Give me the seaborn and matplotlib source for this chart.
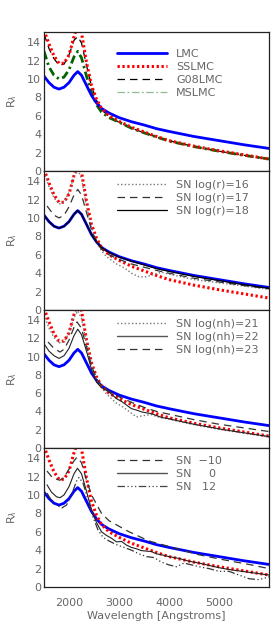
import numpy as np
import pandas as pd
import seaborn as sns
from matplotlib import pyplot as plt

# common wavelength grid for the smooth model curves
wl = [1500, 1600, 1700, 1800, 1900, 2000, 2100, 2175, 2250, 2350, 2450, 2550,
      2650, 2800, 3000, 3250, 3500, 3750, 4000, 4500, 5000, 5500, 6000]
lmc = [10.3, 9.6, 9.1, 8.9, 9.1, 9.6, 10.4, 10.8, 10.4, 9.3, 8.2, 7.4,
       6.8, 6.3, 5.8, 5.35, 5.0, 4.6, 4.3, 3.75, 3.3, 2.85, 2.45]
sslmc = [15.3, 13.8, 12.5, 11.7, 11.7, 12.6, 14.6, 15.8, 15.0, 11.8, 9.3, 7.8,
         6.8, 6.0, 5.4, 4.75, 4.25, 3.75, 3.3, 2.7, 2.2, 1.75, 1.3]
g08lmc = [14.9, 13.3, 12.2, 11.5, 11.6, 12.6, 14.2, 14.6, 13.9, 11.5, 9.2, 7.7,
          6.7, 5.9, 5.3, 4.65, 4.15, 3.7, 3.3, 2.65, 2.15, 1.7, 1.3]
mslmc = [13.0, 11.3, 10.4, 10.0, 10.2, 11.0, 12.4, 13.0, 12.3, 10.3, 8.5, 7.2,
         6.4, 5.8, 5.3, 4.65, 4.15, 3.7, 3.25, 2.65, 2.15, 1.7, 1.3]

# panel 2: SN log(r)
r18 = [10.3, 9.6, 9.1, 8.9, 9.1, 9.6, 10.4, 10.8, 10.4, 9.3, 8.2, 7.4,
       6.8, 6.25, 5.75, 5.3, 4.9, 4.5, 4.2, 3.65, 3.2, 2.75, 2.35]
wl_r17 = [1560, 1700, 1800, 1900, 2000, 2100, 2175, 2250, 2350, 2450, 2550,
          2650, 2800, 3000, 3250, 3500, 3750, 4000, 4500, 5000, 5500, 6000]
r17 = [11.3, 10.3, 10.0, 10.3, 11.2, 12.5, 13.1, 12.5, 10.6, 8.7, 7.4,
       6.6, 6.0, 5.5, 5.0, 4.65, 4.3, 4.0, 3.45, 3.05, 2.65, 2.3]
wl_r16 = [1500, 1600, 1700, 1800, 1900, 2000, 2100, 2175, 2250, 2350, 2450, 2550,
          2650, 2750, 2850, 2950, 3100, 3250, 3400, 3550, 3700, 3850, 4000,
          4500, 5000, 5500, 6000]
r16 = [15.0, 13.4, 12.2, 11.5, 11.7, 12.8, 14.5, 15.2, 14.3, 11.3, 9.0, 7.5,
       6.4, 5.8, 5.4, 5.0, 4.6, 4.0, 3.6, 3.6, 3.9, 4.1, 3.9,
       3.3, 2.95, 2.6, 2.25]

# panel 3: SN log(nh)
wl_nh = [1500, 1600, 1700, 1800, 1900, 2000, 2100, 2175, 2250, 2350, 2450, 2550,
         2650, 2750, 2850, 2950, 3050, 3150, 3250, 3350, 3450, 3550, 3650, 3750,
         3850, 4000, 4200, 4500, 4800, 5100, 5400, 5700, 6000]
nh21 = [14.6, 13.1, 12.1, 11.5, 11.6, 12.6, 14.3, 15.0, 14.2, 11.5, 9.1, 7.6,
        6.6, 5.9, 5.4, 4.9, 4.6, 4.2, 3.8, 3.4, 3.5, 3.6, 3.65, 3.45,
        3.3, 3.15, 2.9, 2.55, 2.25, 1.95, 1.7, 1.45, 1.2]
nh22 = [11.4, 10.6, 10.1, 9.8, 10.1, 10.9, 12.3, 13.0, 12.4, 10.6, 8.6, 7.2,
        6.6, 6.3, 5.9, 5.4, 5.1, 4.7, 4.3, 4.15, 3.95, 3.85, 3.75, 3.55,
        3.35, 3.2, 2.95, 2.6, 2.3, 2.0, 1.75, 1.5, 1.25]
wl_nh23 = [1580, 1700, 1820, 1900, 2000, 2100, 2160, 2250, 2350, 2450, 2550,
           2650, 2800, 3000, 3250, 3500, 3750, 4000, 4500, 5000, 5500, 6000]
nh23 = [11.6, 10.9, 10.5, 10.8, 11.8, 13.2, 13.8, 13.1, 11.0, 9.0, 7.6,
        6.8, 6.2, 5.6, 5.0, 4.45, 4.0, 3.7, 3.1, 2.6, 2.2, 1.8]

# panel 4: SN epoch
wl_m10 = [1560, 1650, 1750, 1820, 1900, 2000, 2100, 2160, 2250, 2350, 2450, 2550,
          2650, 2800, 3000, 3200, 3400, 3600, 3800, 4000, 4300, 4600, 5000,
          5300, 5600, 6000]
sn_m10 = [12.6, 12.0, 11.7, 11.6, 11.9, 12.8, 13.7, 14.1, 13.5, 11.6, 10.0, 9.0,
          8.0, 7.2, 6.6, 6.0, 5.5, 5.0, 4.7, 4.4, 3.95, 3.5, 3.05,
          2.75, 2.45, 2.0]
wl_0 = [1560, 1650, 1750, 1820, 1900, 2000, 2100, 2170, 2250, 2350, 2450, 2550,
        2650, 2750, 2850, 2950, 3050, 3150, 3250, 3350, 3450, 3550, 3650, 3750,
        3850, 4000, 4200, 4400, 4600, 4800, 5000, 5200, 5400, 5600, 5800, 6000]
sn_0 = [11.1, 10.3, 9.8, 9.7, 10.0, 10.9, 12.3, 12.9, 12.3, 10.4, 8.4, 7.0,
        6.0, 5.6, 5.3, 4.9, 4.95, 4.55, 4.3, 4.15, 3.95, 3.9, 3.85, 3.6,
        3.5, 3.3, 3.1, 2.8, 2.6, 2.35, 2.1, 1.9, 1.75, 1.6, 1.45, 1.3]
wl_12 = [1560, 1650, 1750, 1860, 1950, 2050, 2150, 2200, 2280, 2380, 2480, 2580,
         2680, 2800, 2950, 3100, 3250, 3400, 3550, 3700, 3850, 4000, 4150,
         4300, 4450, 4600, 4800, 5000, 5200, 5400, 5600, 5800, 6000]
sn_12 = [10.2, 9.4, 8.9, 8.6, 8.9, 10.0, 11.5, 11.9, 11.3, 9.5, 7.6, 6.2,
         5.4, 5.0, 4.6, 4.3, 4.0, 3.6, 3.3, 3.2, 2.7, 2.4, 2.2,
         2.6, 2.4, 2.2, 2.0, 1.7, 1.7, 1.3, 0.9, 0.8, 1.1]

xticks = [2000, 3000, 4000, 5000]
yticks = [0, 2, 4, 6, 8, 10, 12, 14]

sns.set_style("white")
plt.rcParams['font.family'] = ['DejaVu Sans']
GREY = '#666666'

fig = plt.figure(figsize=(2.77, 6.32), dpi=100)
W, H = 277, 632
left, right = 44, 269
edges = [32, 171, 310, 448, 587]
axes = []
for i in range(4):
    top, bot = edges[i], edges[i + 1]
    ax = fig.add_axes([left / W, 1 - bot / H, (right - left) / W, (bot - top) / H])
    axes.append(ax)

DOT = (0, (1, 1.6))
RED_DOT = (0, (0.75, 0.85))
GREEN_DD = (0, (3, 1.3, 0.8, 1.3))
DASH = (0, (6, 4))
DDD = (0, (6, 2, 1, 2, 1, 2, 1, 2))


def base(ax):
    sns.lineplot(x=wl, y=lmc, ax=ax, color='#0000ff', lw=2.0)
    sns.lineplot(x=wl, y=sslmc, ax=ax, color='#ff0000', lw=2.2,
                 linestyle=RED_DOT, dash_capstyle='butt')


def line(ls, color, lw):
    return plt.Line2D([], [], color=color, lw=lw, linestyle=ls, dash_capstyle='butt')


# panel 1
ax = axes[0]
sns.lineplot(x=wl, y=g08lmc, ax=ax, color='black', lw=0.9, linestyle=DASH)
sns.lineplot(x=wl, y=mslmc, ax=ax, color='#006400', lw=2.0, linestyle=GREEN_DD,
             dash_capstyle='butt')
base(ax)
h1 = [line('-', '#0000ff', 2.0), line(RED_DOT, '#ff0000', 2.2),
      line(DASH, 'black', 0.9), line((0, (6, 2, 1.5, 2)), '#8fbc8f', 0.9)]
l1 = ['LMC', 'SSLMC', 'G08LMC', 'MSLMC']

# panel 2
ax = axes[1]
base(ax)
sns.lineplot(x=wl_r16, y=r16, ax=ax, color='#777777', lw=1.0, linestyle=DOT)
sns.lineplot(x=wl_r17, y=r17, ax=ax, color='#333333', lw=0.9, linestyle=DASH)
sns.lineplot(x=wl, y=r18, ax=ax, color='black', lw=0.9)
h2 = [line(DOT, '#777777', 1.0), line(DASH, '#333333', 0.9), line('-', 'black', 0.9)]
l2 = ['SN log(r)=16', 'SN log(r)=17', 'SN log(r)=18']

# panel 3
ax = axes[2]
base(ax)
sns.lineplot(x=wl_nh, y=nh21, ax=ax, color='#777777', lw=1.0, linestyle=DOT)
sns.lineplot(x=wl_nh, y=nh22, ax=ax, color='#222222', lw=0.8)
sns.lineplot(x=wl_nh23, y=nh23, ax=ax, color='#333333', lw=0.9, linestyle=DASH)
h3 = [line(DOT, '#777777', 1.0), line('-', '#555555', 1.0), line(DASH, '#333333', 0.9)]
l3 = ['SN log(nh)=21', 'SN log(nh)=22', 'SN log(nh)=23']

# panel 4
ax = axes[3]
base(ax)
sns.lineplot(x=wl_m10, y=sn_m10, ax=ax, color='#333333', lw=0.9, linestyle=DASH)
sns.lineplot(x=wl_0, y=sn_0, ax=ax, color='#222222', lw=0.8)
sns.lineplot(x=wl_12, y=sn_12, ax=ax, color='#333333', lw=0.9, linestyle=DDD)
h4 = [line(DASH, '#333333', 0.9), line('-', '#555555', 1.0), line(DDD, '#444444', 0.9)]
l4 = ['SN  \u221210', 'SN     0', 'SN   12']

tops = [0.88, 0.935, 0.935, 0.945]
for ax, h, l, t in zip(axes, [h1, h2, h3, h4], [l1, l2, l3, l4], tops):
    ax.set_xlim(1500, 6000)
    ax.set_ylim(0, 15.1)
    ax.set_yticks(yticks)
    ax.set_xticks(xticks)
    ax.tick_params(length=0, labelsize=8, labelcolor=GREY, pad=2)
    ax.set_ylabel(r'R$_\lambda$', fontsize=8, color=GREY, labelpad=6)
    ax.set_xlabel('')
    for s in ax.spines.values():
        s.set_color('#222222')
        s.set_linewidth(0.9)
    leg = ax.legend(h, l, loc='upper left', bbox_to_anchor=(0.325, t), frameon=False,
                    fontsize=8, handlelength=4.5, handletextpad=0.8, labelspacing=0.28,
                    borderpad=0, borderaxespad=0)
    for txt in leg.get_texts():
        txt.set_color(GREY)

for ax in axes[:3]:
    ax.set_xticklabels([])
axes[3].tick_params(axis='x', pad=8)
axes[3].set_xlabel('Wavelength [Angstroms]', fontsize=8, color=GREY, labelpad=2)

fig.savefig('out.png', dpi=100)
